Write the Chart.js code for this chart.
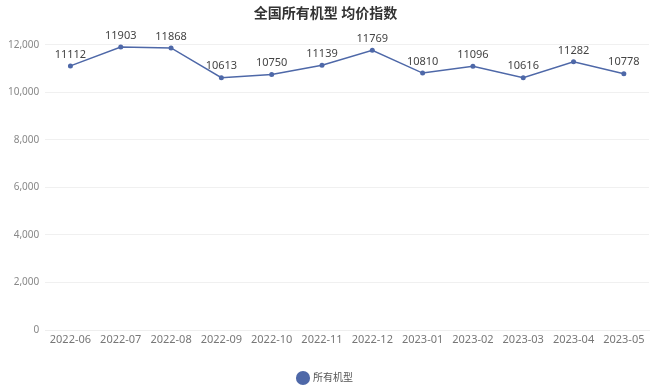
<!DOCTYPE html>
<html>
<head>
<meta charset="utf-8">
<script src="https://cdn.jsdelivr.net/npm/chart.js@4"></script>
<style>
  html, body { margin: 0; padding: 0; background: #fff; }
  #wrap { width: 650px; height: 386px; }
</style>
</head>
<body>
<div id="wrap"><canvas id="myChart"></canvas></div>
<script>
var months = ['2022-06', '2022-07', '2022-08', '2022-09', '2022-10', '2022-11',
              '2022-12', '2023-01', '2023-02', '2023-03', '2023-04', '2023-05'];
var prices = [11112, 11903, 11868, 10613, 10750, 11139, 11769, 10810, 11096, 10616, 11282, 10778];
var yTicks = [0, 2000, 4000, 6000, 8000, 10000, 12000];

var fontFam = '"Noto Sans", "Noto Sans CJK SC", sans-serif';

// draws the value above each point
var valueLabels = {
  id: 'valueLabels',
  afterDatasetsDraw: function(chart) {
    var ctx = chart.ctx;
    var meta = chart.getDatasetMeta(0);
    ctx.save();
    ctx.font = '11px ' + fontFam;
    ctx.fillStyle = '#444';
    ctx.textAlign = 'center';
    ctx.textBaseline = 'bottom';
    meta.data.forEach(function(pt, i) {
      ctx.fillText(String(prices[i]), pt.x, pt.y - 6);
    });
    ctx.restore();
  }
};

var ctx = document.getElementById('myChart').getContext('2d');
var myChart = new Chart(ctx, {
  type: 'line',
  data: {
    labels: months,
    datasets: [{
      label: '所有机型',
      data: prices,
      borderColor: '#4e68a8',
      backgroundColor: '#4a66c0',
      borderWidth: 1.5,
      pointRadius: 2.5,
      pointBackgroundColor: '#4e68a8',
      pointBorderWidth: 0,
      tension: 0,
      clip: false
    }]
  },
  options: {
    responsive: true,
    maintainAspectRatio: false,
    animation: false,
    layout: { autoPadding: false, padding: { left: 2, right: 1, top: 0, bottom: -7 } },
    scales: {
      x: {
        offset: true,
        grid: { display: false, drawTicks: false },
        border: { color: '#eee' },
        ticks: { color: '#777', font: { size: 11, family: fontFam }, maxRotation: 0, autoSkip: false, padding: 3 },
        afterFit: function(axis) {
          axis.height = 40;
          axis.paddingLeft = 0;
          axis.paddingRight = 0;
        }
      },
      y: {
        min: 0,
        max: 12000,
        afterBuildTicks: function(axis) {
          axis.ticks = yTicks.map(function(v) { return { value: v }; });
        },
        grid: { color: '#f0f0f0', drawTicks: false },
        border: { display: false },
        ticks: {
          color: '#888',
          font: { size: 10, family: fontFam },
          padding: 6,
          callback: function(value) { return value.toLocaleString('en-US'); }
        }
      }
    },
    plugins: {
      title: {
        display: true,
        text: '全国所有机型 均价指数',
        color: '#333',
        font: { size: 14, weight: 'bold', family: fontFam },
        padding: { top: 6, bottom: 22 }
      },
      legend: {
        position: 'bottom',
        labels: {
          usePointStyle: true,
          pointStyle: 'circle',
          boxWidth: 10,
          boxHeight: 10,
          color: '#555',
          font: { size: 10, family: fontFam },
          padding: 3
        }
      },
      tooltip: { enabled: false }
    }
  },
  plugins: [valueLabels]
});
</script>
</body>
</html>
